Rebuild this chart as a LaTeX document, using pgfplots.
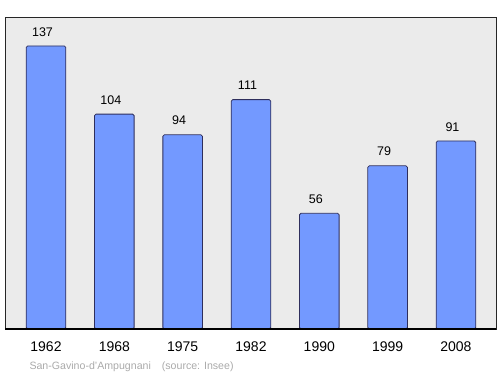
\documentclass[border=0pt]{standalone}
\usepackage{pgfplots}
\pgfplotsset{compat=1.18}
\usepackage{fontspec}
\setmainfont{Liberation Sans}
\definecolor{barfill}{HTML}{7399FF}
\definecolor{barline}{HTML}{2E2E5C}
\definecolor{bg}{HTML}{EBEBEB}
\definecolor{foot}{HTML}{AAAAAA}
\begin{document}
\begin{tikzpicture}
\begin{axis}[
  scale only axis,
  width=491pt, height=312pt,
  xmin=-0.6, xmax=6.586,
  ymin=0, ymax=151,
  axis background/.style={fill=bg},
  axis line style={black!85, line width=0.9pt},
  xtick={0,1,2,3,4,5,6},
  xticklabels={1962,1968,1975,1982,1990,1999,2008},
  xticklabel style={font=\fontsize{14}{16}\selectfont, yshift=-9pt},
  major tick length=0pt,
  ytick=\empty,
  ybar, bar width=39.6pt, bar shift=0pt,
  nodes near coords,
  every node near coord/.append style={font=\fontsize{12.5}{14}\selectfont, black, yshift=6pt, xshift=-3.5pt},
  /pgf/number format/assume math mode=true,
]
\addplot[fill=barfill, draw=barline, line width=0.8pt, rounded corners=1.5pt]
  coordinates {(0,137) (1,104) (2,94) (3,111) (4,56) (5,79) (6,91)};
\draw[black, line width=1.6pt] (rel axis cs:0,0) -- (rel axis cs:1,0);
\end{axis}
\node[anchor=west, text=foot, font=\fontsize{10.6}{12}\selectfont] at (21pt,-38pt) {San-Gavino-d'Ampugnani\hspace{11pt}(source: Insee)};
\path[use as bounding box] (-5pt,-45pt) rectangle (495pt,329pt);
\end{tikzpicture}
\end{document}
